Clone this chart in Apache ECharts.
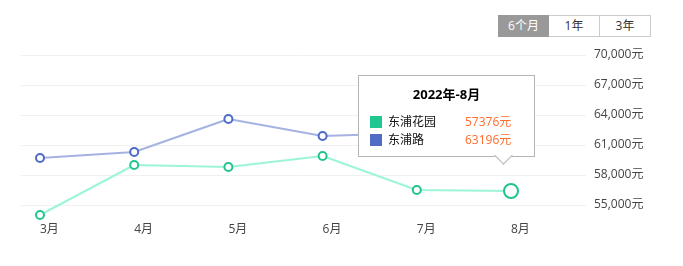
<!DOCTYPE html>
<html>
<head>
<meta charset="utf-8">
<script src="https://cdn.jsdelivr.net/npm/echarts@6/dist/echarts.min.js"></script>
<style>
  html, body { margin: 0; padding: 0; background: #fff; }
  #wrap { position: relative; width: 683px; height: 266px; font-family: 'Open Sans', 'Noto Sans CJK SC', sans-serif; }
  #chart { position: absolute; left: 0; top: 0; width: 683px; height: 266px; }
  #btns { position: absolute; left: 498px; top: 15px; display: flex; z-index: 5; }
  #btns div { box-sizing: border-box; width: 51px; height: 22px; line-height: 20px; text-align: center; font-size: 12px; color: #333; border: 1px solid #cccccc; background: #fff; }
  #btns div + div { border-left: none; }
  #btns div.on { background: #999999; border-color: #999999; color: #fff; }
</style>
</head>
<body>
<div id="wrap">
  <div id="chart"></div>
  <div id="btns"></div>
</div>
<script>
const categories = ['3月', '4月', '5月', '6月', '7月', '8月'];
const seriesNames = ['东浦花园', '东浦路'];
const gardenValues = [54000, 59000, 58800, 59900, 56500, 56400];
const roadValues = [59700, 60300, 63600, 61900, 62200, 63196];
const yMin = 55000;
const yMax = 70000;
const yStep = 3000;
const tipYear = '2022年';
const tipValues = [57376, 63196];
const tipIndex = 5;
const periodButtons = ['6个月', '1年', '3年'];

const FONT = "'Open Sans', 'Noto Sans CJK SC', sans-serif";
const greenSym = '#22c48e';
const greenLine = '#8ee0c2';
const blueSym = '#4d6bc6';
const blueLine = '#a6b3e2';

const btnBox = document.getElementById('btns');
periodButtons.forEach((t, i) => {
  const d = document.createElement('div');
  d.textContent = t;
  if (i === 0) d.className = 'on';
  btnBox.appendChild(d);
});

const chart = echarts.init(document.getElementById('chart'), null, { renderer: 'canvas' });

function tipFormatter(p) {
  const idx = p && p.dataIndex != null ? p.dataIndex : tipIndex;
  const title = tipYear + '-' + categories[idx];
  let rows = '';
  seriesNames.forEach((n, i) => {
    const top = 37 + i * 18;
    rows += '<div style="position:absolute;left:11px;top:' + (top + 3) + 'px;width:12px;height:12px;background:' + (i === 0 ? '#20c790' : '#4f6bc4') + ';"></div>' +
      '<div style="position:absolute;left:29px;top:' + top + 'px;height:18px;line-height:18px;font-size:12px;color:#111;">' + n + '</div>' +
      '<div style="position:absolute;left:106px;top:' + top + 'px;height:18px;line-height:18px;font-size:12px;color:#ff6c2c;">' + tipValues[i] + '元</div>';
  });
  return '<div style="position:relative;width:175px;height:80px;font-family:' + FONT.replace(/"/g, '') + ';">' +
    '<div style="position:absolute;left:0;top:9px;width:175px;text-align:center;font-size:13px;font-weight:bold;line-height:18px;color:#000;">' + title + '</div>' +
    rows +
    '<div style="position:absolute;left:138px;top:73px;width:13px;height:13px;background:#fff;border-right:1px solid #b5b5b5;border-bottom:1px solid #b5b5b5;transform:rotate(45deg);box-sizing:border-box;"></div>' +
    '</div>';
}

const option = {
  animation: false,
  textStyle: { fontFamily: FONT },
  grid: [
    { left: 21, right: 97, top: 55, bottom: 61 },
    { left: 40, right: 172, top: 55, bottom: 61 }
  ],
  xAxis: [
    { type: 'category', gridIndex: 0, data: categories, show: false, boundaryGap: false },
    {
      type: 'category', gridIndex: 1, data: categories, boundaryGap: false,
      axisLine: { show: false }, axisTick: { show: false }, splitLine: { show: false },
      axisLabel: { align: 'left', margin: 19, fontSize: 12, color: '#444', fontFamily: FONT }
    }
  ],
  yAxis: [
    {
      type: 'value', gridIndex: 0, position: 'right', min: yMin, max: yMax, interval: yStep,
      axisLine: { show: false }, axisTick: { show: false },
      splitLine: { lineStyle: { color: '#f0f0f0', width: 1 } },
      axisLabel: {
        margin: 8, fontSize: 12, color: '#444', fontFamily: FONT, padding: [4, 0, 0, 0],
        formatter: v => v.toLocaleString('en-US') + '元'
      }
    },
    { type: 'value', gridIndex: 1, min: yMin, max: yMax, interval: yStep, show: false, splitLine: { show: false } }
  ],
  tooltip: {
    trigger: 'item',
    position: [358, 75],
    padding: 0,
    borderWidth: 1,
    borderColor: '#b5b5b5',
    backgroundColor: '#fff',
    alwaysShowContent: true,
    transitionDuration: 0,
    extraCssText: 'box-shadow:none;border-radius:0;',
    formatter: tipFormatter
  },
  series: [
    {
      name: seriesNames[0], type: 'line', xAxisIndex: 1, yAxisIndex: 1, data: gardenValues,
      clip: false, symbol: 'emptyCircle', symbolSize: 8, z: 3,
      itemStyle: { color: greenSym, borderWidth: 2 },
      lineStyle: { color: greenLine, width: 2 },
      emphasis: { scale: 1.75, focus: 'none', lineStyle: { width: 2 } }
    },
    {
      name: seriesNames[1], type: 'line', xAxisIndex: 1, yAxisIndex: 1, data: roadValues,
      clip: false, symbol: 'emptyCircle', symbolSize: 8, z: 2,
      itemStyle: { color: blueSym, borderWidth: 2 },
      lineStyle: { color: blueLine, width: 2 },
      emphasis: { scale: 1.75, focus: 'none', lineStyle: { width: 2 } }
    }
  ]
};

chart.setOption(option);
chart.dispatchAction({ type: 'showTip', seriesIndex: 0, dataIndex: tipIndex });
chart.dispatchAction({ type: 'highlight', seriesIndex: 0, dataIndex: tipIndex });
</script>
</body>
</html>
